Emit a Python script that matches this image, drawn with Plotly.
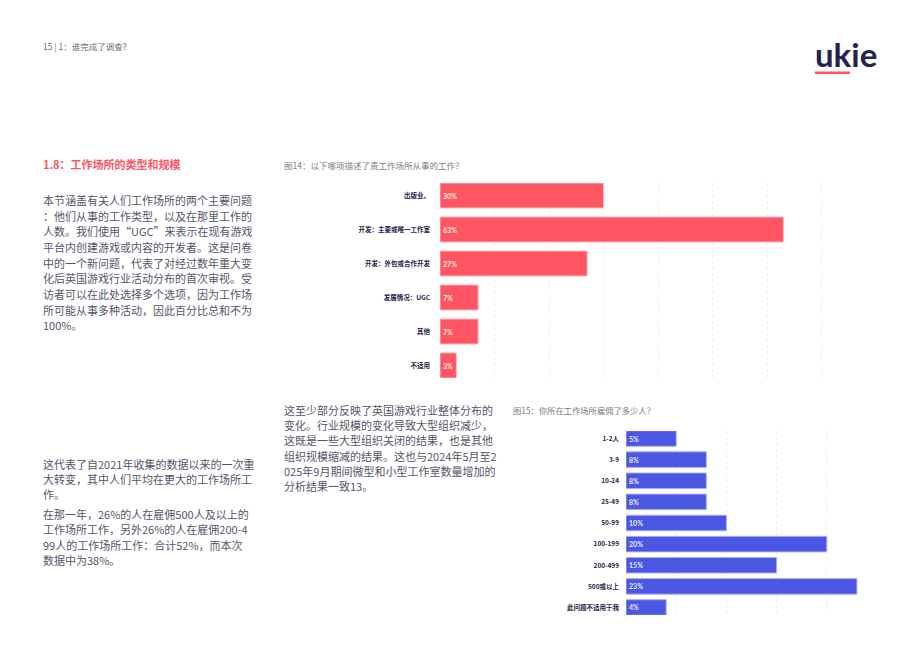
import plotly.graph_objects as go

W, H = 920, 651

# ---------------- data ----------------
fig14_categories = ["出版业。", "开发：主要或唯一工作室", "开发：外包或合作开发", "发展情况：UGC", "其他", "不适用"]
fig14_values = [30, 63, 27, 7, 7, 3]

fig15_categories = ["1-2人", "3-9", "10-24", "25-49", "50-99", "100-199", "200-499", "500或以上", "此问题不适用于我"]
fig15_values = [5, 8, 8, 8, 10, 20, 15, 23, 4]

fig14_title = "图14：以下哪项描述了贵工作场所从事的工作？"
fig15_title = "图15：你所在工作场所雇佣了多少人？"

header_text = "15 | 1：谁完成了调查?"
section_title = "1.8：工作场所的类型和规模"

para1 = ["本节涵盖有关人们工作场所的两个主要问题",
         "：他们从事的工作类型，以及在那里工作的",
         "人数。我们使用“UGC”来表示在现有游戏",
         "平台内创建游戏或内容的开发者。这是问卷",
         "中的一个新问题，代表了对经过数年重大变",
         "化后英国游戏行业活动分布的首次审视。受",
         "访者可以在此处选择多个选项，因为工作场",
         "所可能从事多种活动，因此百分比总和不为",
         "100%。"]
para2 = ["这代表了自2021年收集的数据以来的一次重",
         "大转变，其中人们平均在更大的工作场所工",
         "作。"]
para3 = ["在那一年，26%的人在雇佣500人及以上的",
         "工作场所工作，另外26%的人在雇佣200-4",
         "99人的工作场所工作：合计52%，而本次",
         "数据中为38%。"]
para4 = ["这至少部分反映了英国游戏行业整体分布的",
         "变化。行业规模的变化导致大型组织减少，",
         "这既是一些大型组织关闭的结果，也是其他",
         "组织规模缩减的结果。这也与2024年5月至2",
         "025年9月期间微型和小型工作室数量增加的",
         "分析结果一致13。"]

RED = "#FF5562"
BLUE = "#4B56E3"
NAVY = "#25234B"
BODY = "#55556A"
GRID = "#EDEDF1"
CJK = "Noto Sans CJK SC"


def px_x(x):
    return x / W


def px_y(y):
    return 1 - y / H


fig = go.Figure()

fig.add_trace(go.Bar(
    x=fig14_values, y=fig14_categories, orientation="h",
    marker=dict(color=RED, line=dict(color="#FFB9BE", width=1)),
    texttemplate="%{x}%", textposition="inside", insidetextanchor="start",
    textfont=dict(color="rgba(255,255,255,0.9)", size=7, family="Lato", weight="bold"),
    xaxis="x", yaxis="y", hoverinfo="skip", cliponaxis=False,
))
fig.add_trace(go.Bar(
    x=fig15_values, y=fig15_categories, orientation="h",
    marker=dict(color=BLUE, line=dict(color="#A9AEF3", width=1)),
    texttemplate="%{x}%", textposition="inside", insidetextanchor="start",
    textfont=dict(color="rgba(255,255,255,0.9)", size=7, family="Lato", weight="bold"),
    xaxis="x2", yaxis="y2", hoverinfo="skip", cliponaxis=False,
))

g1 = 1 - 25 / 34
g2 = 1 - 15 / 21.1
gap = 0.5 * (1 - g1)

fig.update_layout(
    width=W, height=H,
    margin=dict(l=0, r=0, t=0, b=0),
    paper_bgcolor="white", plot_bgcolor="white",
    showlegend=False,
    bargap=g1,
    uniformtext=dict(minsize=7, mode="show"),
    xaxis=dict(domain=[px_x(440), px_x(876)], range=[0, 80], dtick=10,
               showgrid=True, gridcolor=GRID, griddash="dot", gridwidth=1,
               showticklabels=False, zeroline=False, showline=False, anchor="y"),
    yaxis=dict(domain=[px_y(378), px_y(183)], autorange=False,
               range=[len(fig14_categories) - 1 + gap, -gap],
               showgrid=False, zeroline=False, showline=False, anchor="x",
               ticks="", ticklabelstandoff=9,
               tickfont=dict(family=CJK, size=6.5, color=NAVY, weight="bold")),
    xaxis2=dict(domain=[px_x(626), px_x(877)], range=[0, 25], dtick=5,
                showgrid=True, gridcolor=GRID, griddash="dot", gridwidth=1,
                showticklabels=False, zeroline=False, showline=False, anchor="y2"),
    yaxis2=dict(domain=[px_y(615), px_y(431)], autorange=False,
                range=[len(fig15_categories) - 1 + 0.5 * (1 - g2), -0.5 * (1 - g2)],
                showgrid=False, zeroline=False, showline=False, anchor="x2",
                ticks="", ticklabelstandoff=6,
                tickfont=dict(family=CJK, size=6.5, color=NAVY, weight="bold")),
)

annotations = []


def add_text(text, x, y, size, color, bold=False, family=CJK):
    annotations.append(dict(
        text=text, x=px_x(x), y=px_y(y), xref="paper", yref="paper",
        xanchor="left", yanchor="middle", showarrow=False,
        font=dict(family=family, size=size, color=color, weight="bold" if bold else "normal"),
    ))


add_text(header_text, 41, 47, 8.5, "#6E6E7A")
add_text(section_title, 41, 164, 11, RED, bold=True)
add_text(fig14_title, 282, 165, 8.5, "#7A7A84")
add_text(fig15_title, 511, 410, 8.3, "#7A7A84")

for i, line in enumerate(para1):
    add_text(line, 41, 200 + i * 15.65, 11, BODY)
for i, line in enumerate(para2):
    add_text(line, 41, 464 + i * 15, 11, BODY)
for i, line in enumerate(para3):
    add_text(line, 41, 514 + i * 15.3, 11, BODY)
for i, line in enumerate(para4):
    add_text(line, 282, 410 + i * 15.2, 11, BODY)

# logo
annotations.append(dict(
    text="ukie", x=px_x(813), y=px_y(54), xref="paper", yref="paper",
    xanchor="left", yanchor="middle", showarrow=False,
    font=dict(family="Lato", size=33, color=NAVY, weight="bold"),
))

fig.update_layout(annotations=annotations)
fig.add_shape(type="rect", xref="paper", yref="paper",
              x0=px_x(815), x1=px_x(850), y0=px_y(74), y1=px_y(71.5),
              fillcolor=RED, line=dict(width=0))

fig.write_html("out.html")
